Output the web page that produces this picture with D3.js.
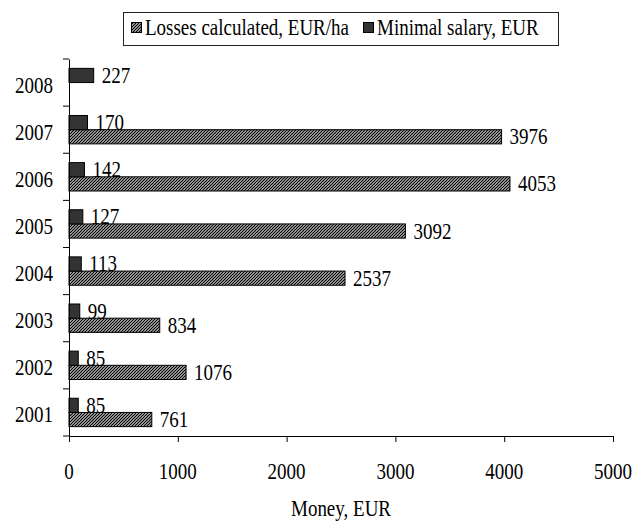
<!DOCTYPE html>
<html>
<head>
<meta charset="utf-8">
<script src="https://cdn.jsdelivr.net/npm/d3@7"></script>
<style>
  html, body { margin: 0; padding: 0; background: #fff; }
  svg text { font-family: "Liberation Serif", "Times New Roman", serif; fill: #000; }
</style>
</head>
<body>
<script>
// Years shown on the category axis (bottom to top)
const years = ["2001", "2002", "2003", "2004", "2005", "2006", "2007", "2008"];
// Calculated losses per hectare (no value for 2008)
const losses = [761, 1076, 834, 2537, 3092, 4053, 3976, null];
// Minimal monthly salary
const salary = [85, 85, 99, 113, 127, 142, 170, 227];
const xTicks = [0, 1000, 2000, 3000, 4000, 5000];
const seriesNames = ["Losses calculated, EUR/ha", "Minimal salary, EUR"];

const W = 644, H = 521;
const plot = { left: 69, right: 613, top: 59, bottom: 436 };
const FS = 19;          // font size
const SY = 1.17;        // vertical stretch of the serif text

const svg = d3.select("body").append("svg")
  .attr("width", W).attr("height", H);

// Upward diagonal hatch for the losses series
const defs = svg.append("defs");
const pat = defs.append("pattern")
  .attr("id", "hatch").attr("patternUnits", "userSpaceOnUse")
  .attr("width", 3).attr("height", 3);
pat.append("rect").attr("width", 3).attr("height", 3).attr("fill", "#fff");
pat.append("path")
  .attr("d", "M0,3 L3,0 M-1,1 L1,-1 M2,4 L4,2")
  .attr("stroke", "#000").attr("stroke-width", 1.25);

const x = d3.scaleLinear().domain([0, 5000]).range([plot.left, plot.right]);
// One band per year, 2008 at the top
const y = d3.scaleBand().domain(years.slice().reverse())
  .range([plot.top, plot.bottom]).padding(0);
// Two bars inside each year band: salary above, losses below
const ySub = d3.scaleBand().domain(["salary", "loss"])
  .range([0, y.bandwidth()]).paddingInner(0).paddingOuter(0.66);

// Text helper: stretched serif label anchored at (px, baseline py)
function label(parent, px, py, str, anchor) {
  return parent.append("text")
    .attr("transform", `translate(${px},${py}) scale(1,${SY})`)
    .attr("text-anchor", anchor || "start")
    .style("font-size", FS + "px")
    .text(str);
}

const rows = years.map((yr, i) => ({ year: yr, loss: losses[i], salary: salary[i] }));

// Bars
const g = svg.append("g");
rows.forEach(r => {
  if (r.loss != null) {
    const by = y(r.year) + ySub("loss");
    g.append("rect")
      .attr("x", x(0)).attr("y", by)
      .attr("width", x(r.loss) - x(0)).attr("height", ySub.bandwidth())
      .attr("fill", "url(#hatch)").attr("stroke", "#000").attr("stroke-width", 1);
    label(g, x(r.loss) + 8, by + ySub.bandwidth() / 2 + 7.5, r.loss);
  }
  const sy = y(r.year) + ySub("salary");
  g.append("rect")
    .attr("x", x(0)).attr("y", sy)
    .attr("width", x(r.salary) - x(0)).attr("height", ySub.bandwidth())
    .attr("fill", "#333").attr("stroke", "#000").attr("stroke-width", 1);
  label(g, x(r.salary) + 8, sy + ySub.bandwidth() / 2 + 7.5, r.salary);
});

// X axis
const xAxis = svg.append("g")
  .attr("transform", `translate(0,${plot.bottom})`)
  .call(d3.axisBottom(x).tickValues(xTicks).tickSize(6).tickSizeOuter(0).tickFormat(""));
xAxis.select(".domain").attr("stroke", "#000");
xAxis.selectAll(".tick line").attr("stroke", "#000");
xTicks.forEach(t => label(svg, x(t), 479, t, "middle"));

// Y axis: labels centred on bands, ticks on band boundaries
const yAxis = svg.append("g")
  .attr("transform", `translate(${plot.left},0)`)
  .call(d3.axisLeft(y).tickSize(0).tickFormat(""));
yAxis.select(".domain").attr("stroke", "#000");
const bounds = y.domain().map(d => y(d)).concat([y(years[0]) + y.bandwidth()]);
yAxis.selectAll("line.bound").data(bounds).join("line")
  .attr("class", "bound")
  .attr("x1", -6).attr("x2", 0)
  .attr("y1", d => d).attr("y2", d => d)
  .attr("stroke", "#000");
years.forEach(yr => label(svg, plot.left - 16, y(yr) + y.bandwidth() / 2 + 10, yr, "end"));

// Axis title
label(svg, (plot.left + plot.right) / 2, 516, "Money, EUR", "middle");

// Legend
const lg = svg.append("g");
lg.append("rect").attr("x", 123.5).attr("y", 12.5).attr("width", 435).attr("height", 33)
  .attr("fill", "#fff").attr("stroke", "#222").attr("stroke-width", 1);
lg.append("rect").attr("x", 131.5).attr("y", 22.5).attr("width", 10).attr("height", 10)
  .attr("fill", "url(#hatch)").attr("stroke", "#000");
label(lg, 145, 35, seriesNames[0]);
lg.append("rect").attr("x", 363.5).attr("y", 22.5).attr("width", 10).attr("height", 10)
  .attr("fill", "#333").attr("stroke", "#000");
label(lg, 377, 35, seriesNames[1]);
</script>
</body>
</html>
